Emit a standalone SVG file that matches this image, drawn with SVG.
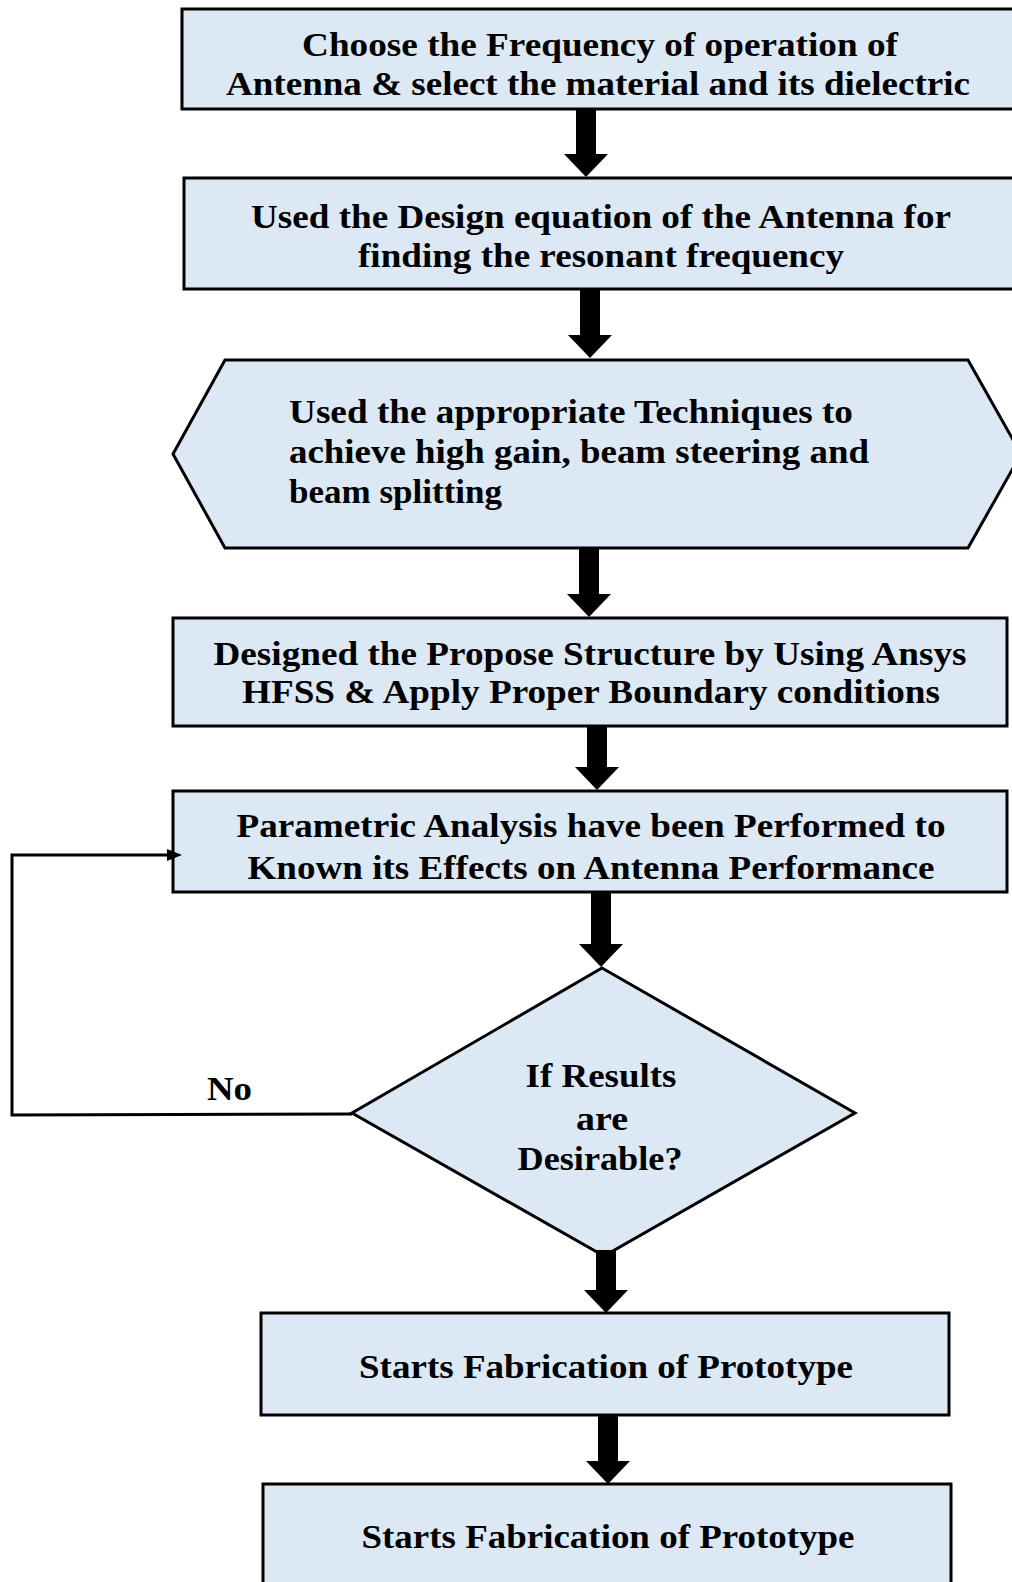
<svg xmlns="http://www.w3.org/2000/svg" width="1012" height="1582" viewBox="0 0 1012 1582">
  <style>
    .box { fill: #dde8f5; stroke: #000; stroke-width: 3; }
    .t { font-family: "Liberation Serif", "Times New Roman", serif; font-weight: bold; font-size: 34px; fill: #000; }
    .c { text-anchor: middle; }
    .big { fill: none; stroke: #000; stroke-width: 20; }
    .thin { fill: none; stroke: #000; stroke-width: 3; }
  </style>
  <defs>
    <marker id="bighead" markerUnits="userSpaceOnUse" markerWidth="24" markerHeight="46" viewBox="0 0 24 46" refX="1" refY="23" orient="auto">
      <path d="M0,1 L23,23 L0,45 Z" fill="#000"/>
    </marker>
    <marker id="smallhead" markerUnits="userSpaceOnUse" markerWidth="15" markerHeight="12" viewBox="0 0 15 12" refX="1" refY="6" orient="auto">
      <path d="M0,0 L15,6 L0,12 Z" fill="#000"/>
    </marker>
  </defs>
  <rect width="1012" height="1582" fill="#fff"/>

  <g id="node1">
    <rect class="box" x="182" y="9" width="860" height="100"/>
    <text class="t c" x="600" y="56" textLength="596" lengthAdjust="spacingAndGlyphs">Choose the Frequency of operation of</text>
    <text class="t c" x="598" y="95" textLength="744" lengthAdjust="spacingAndGlyphs">Antenna &amp; select the material and its dielectric</text>
  </g>

  <g id="node2">
    <rect class="box" x="184" y="178" width="860" height="111"/>
    <text class="t c" x="601" y="228" textLength="700" lengthAdjust="spacingAndGlyphs">Used the Design equation of the Antenna for</text>
    <text class="t c" x="601" y="267" textLength="486" lengthAdjust="spacingAndGlyphs">finding the resonant frequency</text>
  </g>

  <g id="node3">
    <polygon class="box" points="173,454 225,360 968,360 1021,454 968,548 225,548"/>
    <text class="t" x="289" y="423" textLength="564" lengthAdjust="spacingAndGlyphs">Used the appropriate Techniques to</text>
    <text class="t" x="289" y="463" textLength="580" lengthAdjust="spacingAndGlyphs">achieve high gain, beam steering and</text>
    <text class="t" x="289" y="503" textLength="213" lengthAdjust="spacingAndGlyphs">beam splitting</text>
  </g>

  <g id="node4">
    <rect class="box" x="173" y="618" width="834" height="108"/>
    <text class="t c" x="590" y="665" textLength="753" lengthAdjust="spacingAndGlyphs">Designed the Propose Structure by Using Ansys</text>
    <text class="t c" x="591" y="703" textLength="698" lengthAdjust="spacingAndGlyphs">HFSS &amp; Apply Proper Boundary conditions</text>
  </g>

  <g id="node5">
    <rect class="box" x="173" y="791" width="834" height="101"/>
    <text class="t c" x="591" y="837" textLength="709" lengthAdjust="spacingAndGlyphs">Parametric Analysis have been Performed to</text>
    <text class="t c" x="591" y="879" textLength="687" lengthAdjust="spacingAndGlyphs">Known its Effects on Antenna Performance</text>
  </g>

  <g id="node6">
    <polygon class="box" points="602,968 855,1113 604,1256 352,1113"/>
    <text class="t c" x="601" y="1087" textLength="151" lengthAdjust="spacingAndGlyphs">If Results</text>
    <text class="t c" x="602" y="1130" textLength="52" lengthAdjust="spacingAndGlyphs">are</text>
    <text class="t c" x="600" y="1170" textLength="165" lengthAdjust="spacingAndGlyphs">Desirable?</text>
  </g>

  <g id="node7">
    <rect class="box" x="261" y="1313" width="688" height="102"/>
    <text class="t c" x="606" y="1378" textLength="494" lengthAdjust="spacingAndGlyphs">Starts Fabrication of Prototype</text>
  </g>

  <g id="node8">
    <rect class="box" x="263" y="1484" width="688" height="120"/>
    <text class="t c" x="608" y="1548" textLength="493" lengthAdjust="spacingAndGlyphs">Starts Fabrication of Prototype</text>
  </g>

  <g id="connectors">
    <line class="big" x1="586" y1="110" x2="586" y2="155" marker-end="url(#bighead)"/>
    <line class="big" x1="590" y1="290" x2="590" y2="336" marker-end="url(#bighead)"/>
    <line class="big" x1="589" y1="549" x2="589" y2="595" marker-end="url(#bighead)"/>
    <line class="big" x1="597" y1="727" x2="597" y2="768" marker-end="url(#bighead)"/>
    <line class="big" x1="601" y1="893" x2="601" y2="945" marker-end="url(#bighead)"/>
    <line class="big" x1="606" y1="1250" x2="606" y2="1291" marker-end="url(#bighead)"/>
    <line class="big" x1="608" y1="1416" x2="608" y2="1462" marker-end="url(#bighead)"/>
    <path class="thin" d="M352,1114 L12,1115 L12,855 L168,855" marker-end="url(#smallhead)"/>
    <text class="t" x="207" y="1100" textLength="45" lengthAdjust="spacingAndGlyphs">No</text>
  </g>
</svg>
